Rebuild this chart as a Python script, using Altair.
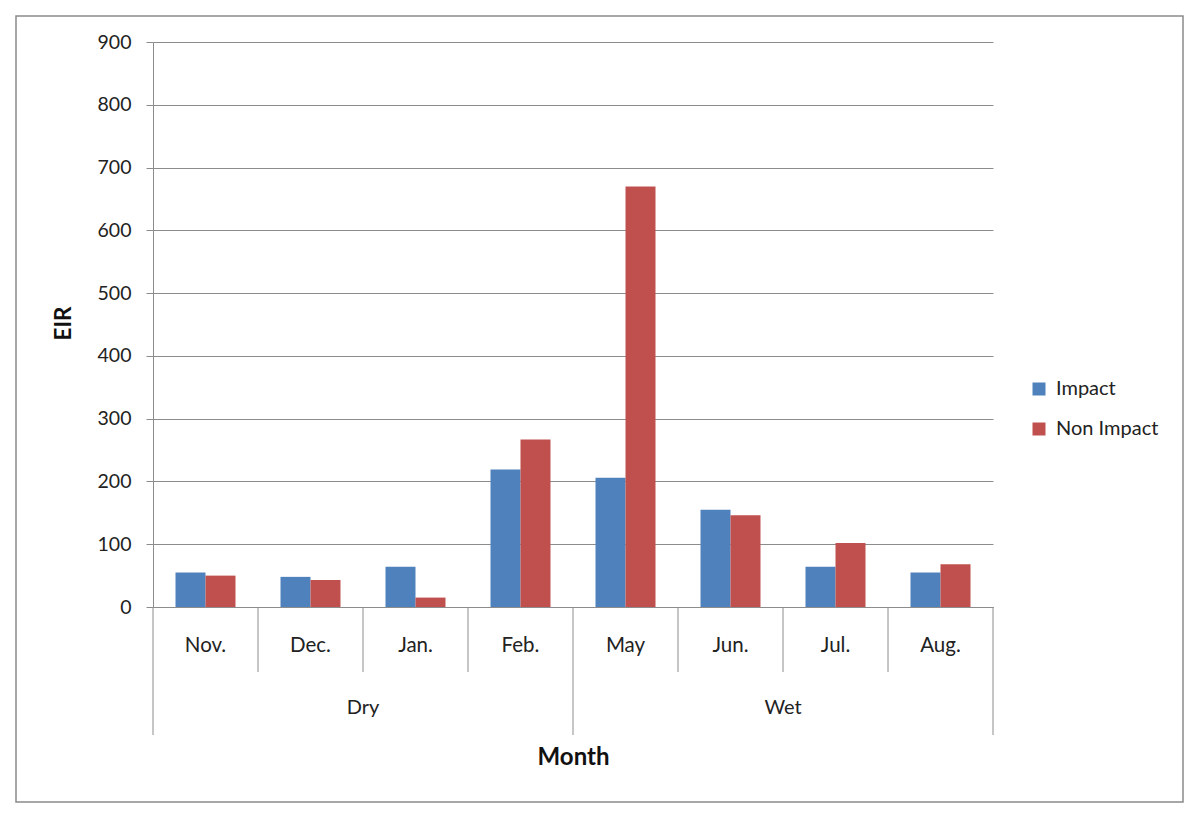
import altair as alt
import pandas as pd

months = ["Nov.", "Dec.", "Jan.", "Feb.", "May", "Jun.", "Jul.", "Aug."]
series = ["Impact", "Non Impact"]
impact = [55, 48, 64, 219, 206, 155, 64, 55]
non_impact = [50, 43, 15, 267, 670, 146, 102, 68]
seasons = ["Dry", "Wet"]
season_centers = ["Jan.", "Jul."]   # season label sits at left edge of this month's band
inner_dividers = ["Dec.", "Jan.", "Feb.", "Jun.", "Jul.", "Aug."]
group_dividers = ["Nov.", "May"]
last_month = ["Aug."]
colors = ["#4F81BD", "#C0504D"]
FONT = "Lato"
GRID = "#8c8c8c"
TXT = "#222222"

rows = []
for i, m in enumerate(months):
    rows.append({"month": m, "series": series[0], "value": impact[i]})
    rows.append({"month": m, "series": series[1], "value": non_impact[i]})
df = pd.DataFrame(rows)

xscale = alt.Scale(domain=months, paddingInner=0, paddingOuter=0)

bars = alt.Chart(df).mark_bar().encode(
    x=alt.X("month:N", scale=xscale, title="Month",
            axis=alt.Axis(ticks=False, tickSize=0, labelPadding=38, labelBaseline="middle",
                          labelAngle=0, labelFontSize=20.5, labelFont=FONT, labelColor=TXT,
                          domainColor=GRID, domainWidth=1, grid=False,
                          titleFont=FONT, titleFontSize=24, titleFontWeight="bold",
                          titleColor="#111", titleY=150, titleBaseline="middle")),
    xOffset=alt.XOffset("series:N", scale=alt.Scale(domain=series, paddingInner=0, paddingOuter=0.75)),
    y=alt.Y("value:Q", scale=alt.Scale(domain=[0, 900], nice=False), title="EIR",
            axis=alt.Axis(values=list(range(0, 1000, 100)), tickSize=7, tickColor=GRID,
                          domainColor=GRID, gridColor=GRID, gridWidth=1,
                          labelFontSize=19.5, labelFont=FONT, labelColor=TXT, labelPadding=15,
                          titleFont=FONT, titleFontSize=22.5, titleFontWeight="bold",
                          titleColor="#111", titleX=-90, titleY=281, titleAngle=-90,
                          titleBaseline="middle", titleAlign="center")),
    color=alt.Color("series:N", scale=alt.Scale(domain=series, range=colors),
                    legend=alt.Legend(title=None, orient="none", legendX=876, legendY=337,
                                      symbolType="square", symbolSize=169, symbolStrokeWidth=0,
                                      labelFontSize=20, labelFont=FONT, labelColor=TXT,
                                      rowPadding=20, labelOffset=7)),
)

short_div = alt.Chart(pd.DataFrame({"month": inner_dividers})).mark_rule(
    color=GRID, strokeWidth=1).encode(
    x=alt.X("month:N", scale=xscale, bandPosition=0),
    y=alt.value(565), y2=alt.value(630))

long_div = alt.Chart(pd.DataFrame({"month": group_dividers})).mark_rule(
    color=GRID, strokeWidth=1).encode(
    x=alt.X("month:N", scale=xscale, bandPosition=0),
    y=alt.value(565), y2=alt.value(693))

end_div = alt.Chart(pd.DataFrame({"month": last_month})).mark_rule(
    color=GRID, strokeWidth=1).encode(
    x=alt.X("month:N", scale=xscale, bandPosition=1),
    y=alt.value(565), y2=alt.value(693))

season_text = alt.Chart(pd.DataFrame({"month": season_centers, "season": seasons})).mark_text(
    font=FONT, fontSize=20, color=TXT, baseline="middle").encode(
    x=alt.X("month:N", scale=xscale, bandPosition=0),
    y=alt.value(666), text="season:N")

frame = alt.Chart(pd.DataFrame({"k": [0]})).mark_rect(
    fillOpacity=0, stroke="#8a8a8a", strokeWidth=1.5).encode(
    x=alt.value(-137), x2=alt.value(1030), y=alt.value(-26), y2=alt.value(760))

chart = alt.layer(frame, bars, short_div, long_div, end_div, season_text).properties(
    width=840, height=565,
    autosize=alt.AutoSizeParams(type="none"),
    padding={"left": 145, "top": 34, "right": 199, "bottom": 205},
    background="white",
).configure_view(strokeWidth=0)

chart.save("out.html", embed_options={"renderer": "svg", "actions": False})
